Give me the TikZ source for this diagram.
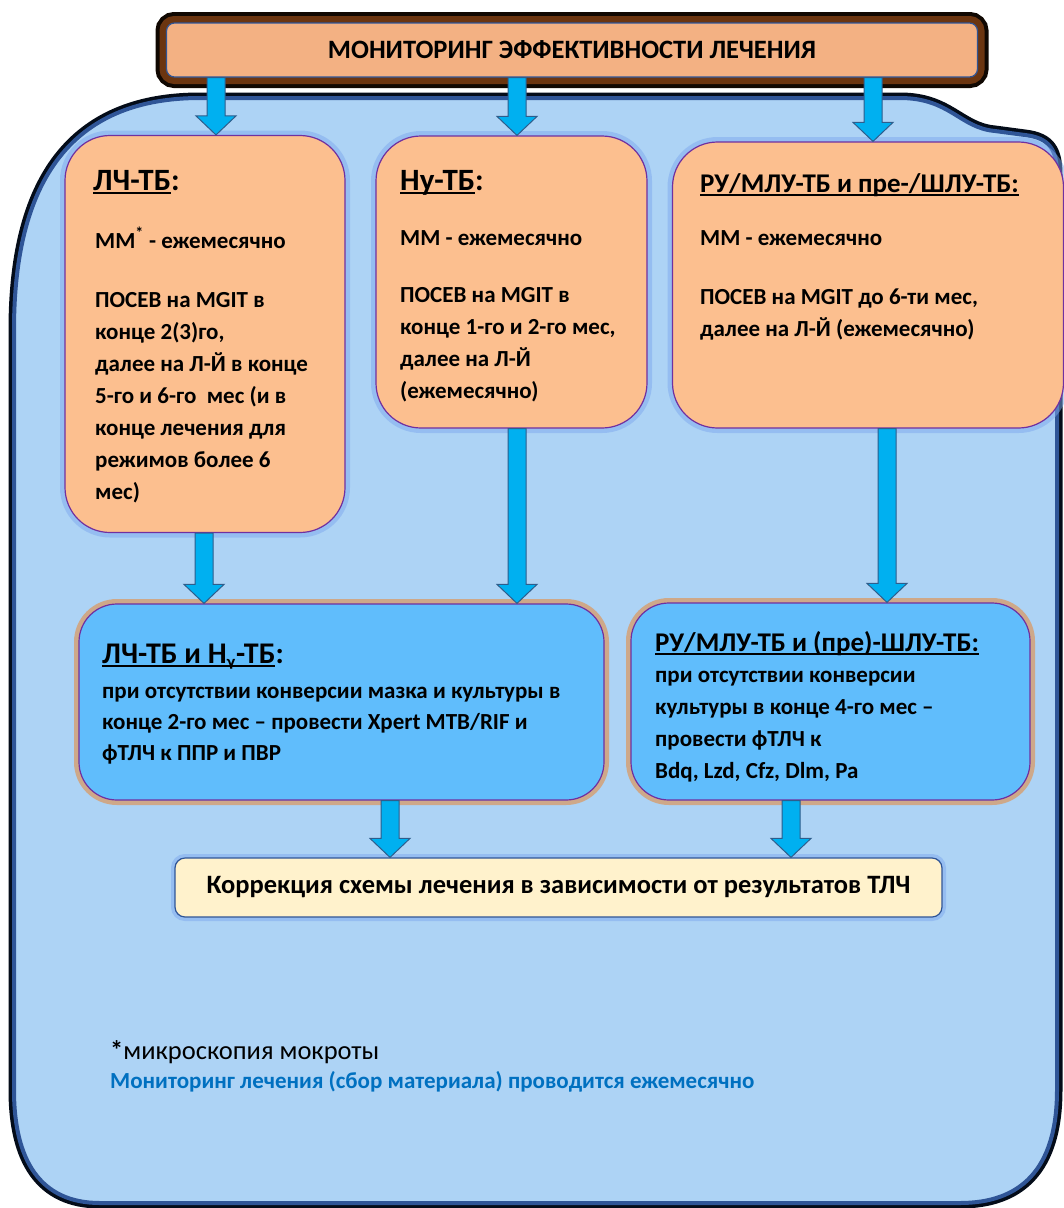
\documentclass[tikz,border=0pt]{standalone}
\usepackage{fontspec}
\setmainfont{Carlito}
\newfontfamily\grk{DejaVu Sans}
\usepackage{xcolor}
\usetikzlibrary{calc}
\usetikzlibrary{positioning}

\definecolor{panelblue}{HTML}{ADD3F5}
\definecolor{paneledge}{HTML}{0F2752}
\definecolor{peach}{HTML}{FCBF8F}
\definecolor{peachglow}{HTML}{7FA9EE}
\definecolor{skyfill}{HTML}{60BDFC}
\definecolor{skyglow}{HTML}{D2A47E}
\definecolor{boxedge}{HTML}{7030A0}
\definecolor{arrfill}{HTML}{00B0F0}
\definecolor{arredge}{HTML}{2E5D8C}
\definecolor{cream}{HTML}{FFF2CC}
\definecolor{creamedge}{HTML}{2F5597}
\definecolor{titlefill}{HTML}{F3B183}
\definecolor{titlebrown}{HTML}{6B3510}
\definecolor{notecol}{HTML}{0070C0}

% underline at a fixed depth
\newcommand{\undl}[1]{\setbox0\hbox{#1}\rlap{\rule[-4pt]{\wd0}{1.6pt}}\box0}

\tikzset{
  peachbox/.style={draw=boxedge, line width=1.2pt, fill=peach, rounded corners=45pt, inner sep=0,
    preaction={draw=peachglow, line width=10pt, opacity=0.5}},
  skybox/.style={draw=boxedge, line width=1.2pt, fill=skyfill, rounded corners=38pt, inner sep=0,
    preaction={draw=skyglow, line width=10pt, opacity=0.9}},
  boxhead/.style={anchor=base west, inner sep=0, font=\bfseries\fontsize{27}{32}\selectfont},
  boxtext/.style={anchor=base west, inner sep=0, align=left, font=\bfseries\fontsize{23}{32}\selectfont},
  blockarr/.style={draw=arredge, line width=1pt, fill=arrfill, to path={
    let \p1=(\tikztostart), \p2=(\tikztotarget) in
    (\x1-9pt,\y1) -- (\x1-9pt,\y2+19pt) -- (\x1-20pt,\y2+19pt) -- (\x1,\y2)
    -- (\x1+20pt,\y2+19pt) -- (\x1+9pt,\y2+19pt) -- (\x1+9pt,\y1) -- cycle}}
}

\begin{document}
\begin{tikzpicture}[x=1pt, y=-1pt]
\useasboundingbox (0,0) rectangle (1064,1208);

% big panel
\draw[draw=creamedge, line width=4pt, fill=panelblue,
  preaction={draw=black!70!paneledge, line width=11pt}]
  (14,330) .. controls (14,170) and (80,98) .. (200,98) -- (900,98)
  .. controls (950,98) and (960,128) .. (995,131) -- (1025,135)
  .. controls (1050,138) and (1057,150) .. (1057,175) -- (1057,1090)
  .. controls (1057,1170) and (1020,1203) .. (960,1203) -- (100,1203)
  .. controls (40,1203) and (14,1160) .. (14,1090) -- cycle;

\node[fill=titlefill, draw=creamedge, line width=1.2pt, rounded corners=8pt,
  minimum width=811pt, minimum height=54pt, inner sep=0,
  preaction={draw=black!85!titlebrown, line width=22pt},
  preaction={draw=titlebrown, line width=14pt},
  font=\bfseries\fontsize{26.5}{30}\selectfont] (title) at (572,50) {МОНИТОРИНГ ЭФФЕКТИВНОСТИ ЛЕЧЕНИЯ};

\node[peachbox, minimum width=280pt, minimum height=397pt] (lch) at (205,334) {};
\node[peachbox, minimum width=271pt, minimum height=292pt] (ny) at (511.5,282) {};
\node[peachbox, minimum width=391pt, minimum height=286pt] (mlu) at (868,285) {};
\node[skybox, minimum width=525pt, minimum height=196pt] (lchny) at (341.5,702) {};
\node[skybox, minimum width=399pt, minimum height=197pt] (mlupre) at (830.5,701.5) {};
\node[fill=cream, draw=creamedge, line width=1.2pt, rounded corners=10pt, inner sep=0,
  minimum width=767pt, minimum height=59pt,
  preaction={draw=peachglow, line width=8pt, opacity=0.5},
  font=\bfseries\fontsize{26.5}{30}\selectfont] (fix) at (558.5,887.5)
  {Коррекция схемы лечения в зависимости от результатов ТЛЧ};

% arrows
\draw[blockarr] (title.south -| 216,0) to (lch.north -| 216,0);
\draw[blockarr] (title.south -| 517,0) to (ny.north -| 517,0);
\draw[blockarr] (title.south -| 873,0) to (mlu.north -| 873,0);
\draw[blockarr] (lch.south -| 204,0) to (lchny.north -| 204,0);
\draw[blockarr] (ny.south -| 517,0) to (lchny.north -| 517,0);
\draw[blockarr] (mlu.south -| 887,0) to (mlupre.north -| 887,0);
\draw[blockarr] (lchny.south -| 390,0) to (fix.north -| 390,0);
\draw[blockarr] (mlupre.south -| 791,0) to (fix.north -| 791,0);

% texts (base = last line)
\node[boxhead, font=\bfseries\fontsize{31}{36}\selectfont] (lchhead) at (93,190) {\undl{ЛЧ-ТБ}:};
\node[boxtext] (lchtext) at (95,499) {ММ\textsuperscript{*} - ежемесячно\\[27pt]ПОСЕВ на MGIT в\\конце 2(3)го,\\далее на Л-Й в конце\\5-го и 6-го\ \ мес (и в\\конце лечения для\\режимов более 6\\мес)};
\node[boxhead, font=\bfseries\fontsize{31}{36}\selectfont] (nyhead) at (400,190) {\undl{Ну-ТБ}:};
\node[boxtext] (nytext) at (400,398) {ММ - ежемесячно\\[25pt]ПОСЕВ на MGIT в\\конце 1-го и 2-го мес,\\далее на Л-Й\\(ежемесячно)};
\node[boxhead] (mluhead) at (700,192) {\undl{РУ/МЛУ-ТБ и пре-/ШЛУ-ТБ:}};
\node[boxtext] (mlutext) at (700,336) {ММ - ежемесячно\\[27pt]ПОСЕВ на MGIT до 6-ти мес,\\далее на Л-Й (ежемесячно)};
\node[boxhead, font=\bfseries\fontsize{30}{35}\selectfont] (lchnyhead) at (102,663) {\undl{ЛЧ-ТБ и Н\textsubscript{\grk\fontsize{13}{13}\selectfont γ}-ТБ}:};
\node[boxtext, font=\bfseries\fontsize{23}{31}\selectfont] (lchnytext) at (102,760) {при отсутствии конверсии мазка и культуры в\\конце 2-го мес – провести Xpert MTB/RIF и\\фТЛЧ к ППР и ПВР};
\node[boxhead] (mluprehead) at (655,651) {\undl{РУ/МЛУ-ТБ и (пре)-ШЛУ-ТБ:}};
\node[boxtext] (mlupretext) at (655,778) {при отсутствии конверсии\\культуры в конце 4-го мес –\\провести фТЛЧ к\\Bdq, Lzd, Cfz, Dlm, Pa};

\node[anchor=base west, inner sep=0, font=\fontsize{26.5}{30}\selectfont] (note) at (110,1059) {\textbf{*}микроскопия мокроты};
\node[anchor=base west, inner sep=0, text=notecol, font=\bfseries\fontsize{23}{28}\selectfont] (remark) at (110,1088) {Мониторинг лечения (сбор материала) проводится ежемесячно};
\end{tikzpicture}
\end{document}
